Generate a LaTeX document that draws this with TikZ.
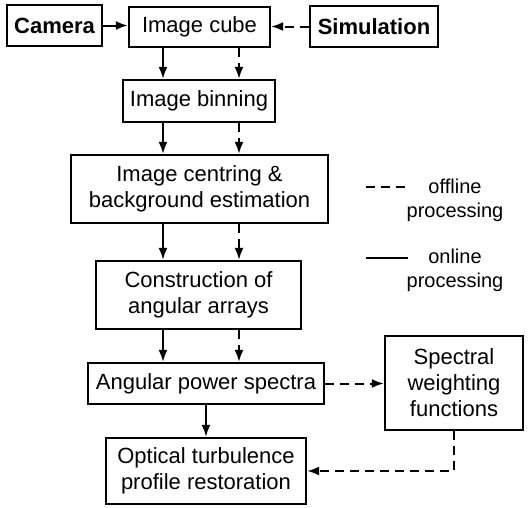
\documentclass[tikz,border=0pt]{standalone}
\usepackage{fontspec}
\setmainfont{Liberation Sans}
\usetikzlibrary{arrows.meta}
\begin{document}
\begin{tikzpicture}[x=1pt,y=1pt,
  box/.style={draw,line width=2.3pt,inner sep=0pt,align=center,
    font=\fontsize{22}{26}\selectfont},
  arr/.style={line width=2pt,-{Latex[length=12pt,width=9pt]}},
  darr/.style={arr,dash pattern=on 9pt off 6pt},
  legtxt/.style={align=center,font=\fontsize{20}{24}\selectfont}]
\useasboundingbox (0,0) rectangle (531,-507);
\node[box,minimum width=95pt,minimum height=41pt,font=\fontsize{22}{26}\selectfont\bfseries] (camera) at (54.5,-25.5) {Camera};
\node[box,minimum width=141pt,minimum height=40pt] (cube) at (199.5,-27) {Image cube};
\node[box,minimum width=128pt,minimum height=41pt,font=\fontsize{22}{26}\selectfont\bfseries] (sim) at (374,-26.5) {Simulation};
\node[box,minimum width=152pt,minimum height=42pt] (bin) at (199,-101) {Image binning};
\node[box,minimum width=257pt,minimum height=68pt] (cent) at (199.5,-189) {Image centring \&\\background estimation};
\node[box,minimum width=205pt,minimum height=68pt] (constr) at (198.5,-295) {Construction of\\angular arrays};
\node[box,minimum width=236pt,minimum height=41pt] (aps) at (206,-383.5) {Angular power spectra};
\node[box,minimum width=138pt,minimum height=94pt] (spec) at (454,-383) {Spectral\\weighting\\functions};
\node[box,minimum width=200pt,minimum height=66pt] (opt) at (206,-471) {Optical turbulence\\profile restoration};
\coordinate (sx) at (163,0);
\coordinate (dx) at (239,0);
\draw[arr] (camera.east) -- (cube.west |- camera.east);
\draw[darr] (sim.west) -- (cube.east |- sim.west);
\foreach \a/\b in {cube/bin,bin/cent,cent/constr,constr/aps}{
  \draw[arr] (\a.south -| sx) -- (\b.north -| sx);
  \draw[darr] (\a.south -| dx) -- (\b.north -| dx);
}
\draw[darr] (aps.east) -- (spec.west |- aps.east);
\draw[arr] (aps.south) -- (opt.north);
\draw[darr] (spec.south) |- (opt.east);
% legend
\coordinate (l1a) at (366,-187);
\coordinate (l1b) at (406,-187);
\coordinate (l2a) at (366,-258);
\coordinate (l2b) at (408,-258);
\draw[line width=2pt,dash pattern=on 9pt off 6pt] (l1a) -- (l1b);
\draw[line width=2pt] (l2a) -- (l2b);
\node[legtxt] (off) at (455,-200) {offline\\processing};
\node[legtxt] (on) at (455,-270) {online\\processing};
\end{tikzpicture}
\end{document}
